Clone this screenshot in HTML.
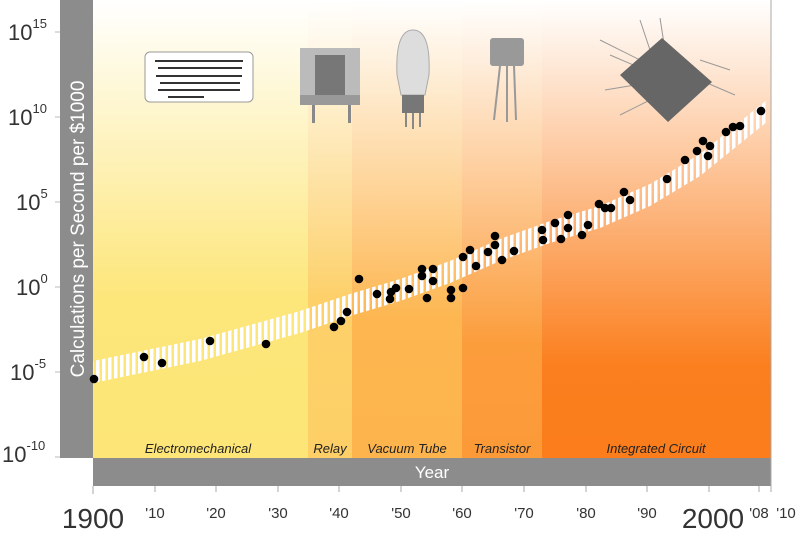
<!DOCTYPE html>
<html><head><meta charset="utf-8"><style>
html,body{margin:0;padding:0;background:#fff;}
svg{display:block;font-family:"Liberation Sans",sans-serif;}
</style></head><body>
<svg width="802" height="540" viewBox="0 0 802 540" xmlns="http://www.w3.org/2000/svg">
<defs>
<linearGradient id="g1" x1="0" y1="0" x2="0" y2="1"><stop offset="0" stop-color="#fff"/><stop offset="0.65" stop-color="#fde67a"/><stop offset="1" stop-color="#fde677"/></linearGradient>
<linearGradient id="g2" x1="0" y1="0" x2="0" y2="1"><stop offset="0" stop-color="#fff"/><stop offset="0.65" stop-color="#fdd06a"/><stop offset="1" stop-color="#fdcf66"/></linearGradient>
<linearGradient id="g3" x1="0" y1="0" x2="0" y2="1"><stop offset="0" stop-color="#fff"/><stop offset="0.7" stop-color="#fdb650"/><stop offset="1" stop-color="#fdb44c"/></linearGradient>
<linearGradient id="g4" x1="0" y1="0" x2="0" y2="1"><stop offset="0" stop-color="#fff"/><stop offset="0.75" stop-color="#fc9d3c"/><stop offset="1" stop-color="#fc9a38"/></linearGradient>
<linearGradient id="g5" x1="0" y1="0" x2="0" y2="1"><stop offset="0" stop-color="#fff"/><stop offset="0.8" stop-color="#fb7f1e"/><stop offset="1" stop-color="#fb7d1c"/></linearGradient>
<pattern id="st" width="6" height="10" patternUnits="userSpaceOnUse"><rect x="0" y="0" width="3.5" height="10" fill="#fff"/></pattern>
<clipPath id="band"><polygon points="93,361 200,339 300,311 350,294 400,279 450,261 500,239 550,221 600,206 650,184 700,154 768,99 768,121 700,176 650,206 600,228 550,243 500,261 450,283 400,301 350,316 300,333 200,361 93,383"/></clipPath>
</defs>
<rect x="93" y="0" width="215" height="458" fill="url(#g1)"/>
<rect x="308" y="0" width="44" height="458" fill="url(#g2)"/>
<rect x="352" y="0" width="110" height="458" fill="url(#g3)"/>
<rect x="462" y="0" width="80" height="458" fill="url(#g4)"/>
<rect x="542" y="0" width="229" height="458" fill="url(#g5)"/>
<rect x="93" y="90" width="680" height="300" fill="url(#st)" clip-path="url(#band)"/>
<rect x="60" y="0" width="33" height="458" fill="#8c8c8c"/>
<rect x="93" y="458" width="678" height="28" fill="#8c8c8c"/>
<line x1="771" y1="0" x2="771" y2="492" stroke="#aaa"/>
<text transform="translate(84,229) rotate(-90)" text-anchor="middle" font-size="19" fill="#fff">Calculations per Second per $1000</text>
<text x="432" y="478" text-anchor="middle" font-size="17" fill="#fff">Year</text>
<g stroke="#bbb" stroke-width="1">
<line x1="55" y1="32" x2="60" y2="32"/><line x1="55" y1="117" x2="60" y2="117"/><line x1="55" y1="202" x2="60" y2="202"/><line x1="55" y1="287" x2="60" y2="287"/><line x1="55" y1="372" x2="60" y2="372"/><line x1="55" y1="457" x2="60" y2="457"/>
</g>
<g font-size="22" fill="#333">
<text x="8" y="40">10<tspan font-size="13" dy="-12">15</tspan></text>
<text x="8" y="125">10<tspan font-size="13" dy="-12">10</tspan></text>
<text x="16" y="210">10<tspan font-size="13" dy="-12">5</tspan></text>
<text x="16" y="295">10<tspan font-size="13" dy="-12">0</tspan></text>
<text x="10" y="380">10<tspan font-size="13" dy="-12">-5</tspan></text>
<text x="2" y="462">10<tspan font-size="13" dy="-12">-10</tspan></text>
</g>
<g stroke="#aaa"><line x1="93" y1="486" x2="93" y2="494"/><line x1="155" y1="486" x2="155" y2="492"/><line x1="216" y1="486" x2="216" y2="492"/><line x1="278" y1="486" x2="278" y2="492"/><line x1="339" y1="486" x2="339" y2="492"/><line x1="401" y1="486" x2="401" y2="492"/><line x1="462" y1="486" x2="462" y2="492"/><line x1="524" y1="486" x2="524" y2="492"/><line x1="586" y1="486" x2="586" y2="492"/><line x1="647" y1="486" x2="647" y2="492"/><line x1="709" y1="486" x2="709" y2="492"/><line x1="759" y1="486" x2="759" y2="492"/></g>
<g font-size="15" fill="#333" text-anchor="middle">
<text x="93" y="528" font-size="28">1900</text>
<text x="155" y="518">'10</text><text x="216" y="518">'20</text><text x="278" y="518">'30</text><text x="339" y="518">'40</text><text x="401" y="518">'50</text><text x="462" y="518">'60</text><text x="524" y="518">'70</text><text x="586" y="518">'80</text><text x="647" y="518">'90</text>
<text x="713" y="528" font-size="28">2000</text><text x="759" y="518">'08</text><text x="786" y="518">'10</text>
</g>
<g font-size="13" font-style="italic" fill="#222" text-anchor="middle">
<text x="198" y="453">Electromechanical</text><text x="330" y="453">Relay</text><text x="407" y="453">Vacuum Tube</text><text x="502" y="453">Transistor</text><text x="656" y="453">Integrated Circuit</text>
</g>
<rect x="145" y="52" width="108" height="50" rx="5" fill="#fff" stroke="#999"/>
<g fill="#333"><rect x="155" y="60" width="88" height="2"/><rect x="158" y="67" width="84" height="2"/><rect x="156" y="75" width="86" height="2"/><rect x="160" y="82" width="80" height="2"/><rect x="158" y="89" width="82" height="2"/><rect x="168" y="96" width="36" height="2"/></g>
<g fill="#888"><rect x="300" y="48" width="60" height="50" fill="#bbb"/><rect x="315" y="55" width="30" height="40" fill="#777"/><rect x="300" y="95" width="60" height="10" fill="#999"/><rect x="312" y="105" width="3" height="18"/><rect x="348" y="105" width="3" height="18"/></g>
<path d="M397,75 Q395,30 413,30 Q431,30 429,75 L425,95 L401,95 Z" fill="#ddd" stroke="#aaa"/>
<rect x="402" y="95" width="22" height="18" fill="#777"/><g fill="#888"><rect x="405" y="113" width="2" height="14"/><rect x="412" y="113" width="2" height="16"/><rect x="419" y="113" width="2" height="14"/></g>
<rect x="490" y="38" width="34" height="28" rx="3" fill="#999"/><g stroke="#999" stroke-width="2"><line x1="500" y1="66" x2="494" y2="120"/><line x1="507" y1="66" x2="507" y2="122"/><line x1="514" y1="66" x2="516" y2="120"/></g>
<g stroke="#999" fill="none"><path d="M600,40 L640,60 M610,55 L645,70 M605,90 L635,85 M620,115 L650,100 M640,20 L650,50 M660,18 L665,50 M700,60 L730,70 M700,80 L735,95"/></g>
<polygon points="620,75 662,38 712,82 668,122" fill="#666"/>
<g fill="#000">
<circle cx="94" cy="379" r="4.3"/><circle cx="144" cy="357" r="4.3"/><circle cx="162" cy="363" r="4.3"/><circle cx="210" cy="341" r="4.3"/><circle cx="266" cy="344" r="4.3"/><circle cx="334" cy="327" r="4.3"/><circle cx="341" cy="321" r="4.3"/><circle cx="347" cy="312" r="4.3"/><circle cx="359" cy="279" r="4.3"/><circle cx="377" cy="294" r="4.3"/><circle cx="390" cy="299" r="4.3"/><circle cx="391" cy="292" r="4.3"/><circle cx="396" cy="288" r="4.3"/><circle cx="409" cy="289" r="4.3"/><circle cx="422" cy="269" r="4.3"/><circle cx="422" cy="276" r="4.3"/><circle cx="427" cy="298" r="4.3"/><circle cx="433" cy="269" r="4.3"/><circle cx="433" cy="281" r="4.3"/><circle cx="451" cy="290" r="4.3"/><circle cx="451" cy="298" r="4.3"/><circle cx="463" cy="257" r="4.3"/><circle cx="463" cy="288" r="4.3"/><circle cx="470" cy="250" r="4.3"/><circle cx="476" cy="266" r="4.3"/><circle cx="488" cy="252" r="4.3"/><circle cx="495" cy="245" r="4.3"/><circle cx="495" cy="236" r="4.3"/><circle cx="502" cy="260" r="4.3"/><circle cx="514" cy="251" r="4.3"/><circle cx="542" cy="230" r="4.3"/><circle cx="543" cy="240" r="4.3"/><circle cx="555" cy="223" r="4.3"/><circle cx="561" cy="239" r="4.3"/><circle cx="568" cy="215" r="4.3"/><circle cx="568" cy="228" r="4.3"/><circle cx="582" cy="235" r="4.3"/><circle cx="588" cy="225" r="4.3"/><circle cx="599" cy="204" r="4.3"/><circle cx="605" cy="208" r="4.3"/><circle cx="611" cy="208" r="4.3"/><circle cx="624" cy="192" r="4.3"/><circle cx="630" cy="200" r="4.3"/><circle cx="667" cy="179" r="4.3"/><circle cx="685" cy="160" r="4.3"/><circle cx="697" cy="151" r="4.3"/><circle cx="703" cy="141" r="4.3"/><circle cx="708" cy="156" r="4.3"/><circle cx="710" cy="146" r="4.3"/><circle cx="726" cy="132" r="4.3"/><circle cx="733" cy="127" r="4.3"/><circle cx="740" cy="126" r="4.3"/><circle cx="761" cy="111" r="4.3"/>
</g>
</svg>
</body></html>
